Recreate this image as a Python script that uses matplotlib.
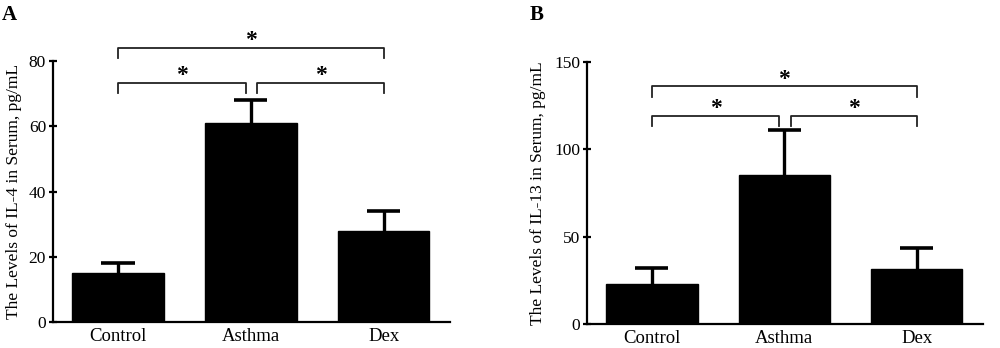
import numpy as np
import matplotlib
matplotlib.use('Agg')
import matplotlib.pyplot as plt

groups = ['Control', 'Asthma', 'Dex']

# panel A: IL-4
il4_mean = [15, 61, 28]
il4_err = [3, 7, 6]
# panel B: IL-13
il13_mean = [23, 85, 31.5]
il13_err = [9, 26, 12]

plt.rcParams['font.family'] = 'Liberation Serif'

fig = plt.figure(figsize=(10, 3.48), dpi=100)


def panel(rect, means, errs, ymax_axis, ylim_top, yticks, ylabel, brackets, star_off, lab_x):
    ax = fig.add_axes(rect)
    x = np.arange(len(groups))
    means = np.array(means)
    errs = np.array(errs)
    ax.bar(x, means, width=0.69, color='black', edgecolor='black', zorder=2)
    # upper error bars only
    ax.vlines(x, means, means + errs, color='black', lw=2.4, zorder=1)
    ax.hlines(means + errs, x - 0.125, x + 0.125, color='black', lw=2.6, zorder=1)
    ax.set_xlim(-0.49, 2.5)
    ax.set_ylim(0, ylim_top)
    ax.set_yticks(yticks)
    ax.set_xticks(x)
    ax.set_xticklabels(groups, fontsize=13.5)
    ax.tick_params(axis='x', length=0, pad=4)
    ax.tick_params(axis='y', direction='inout', length=6, width=1.6, labelsize=12.5, pad=2)
    for s in ['top', 'right']:
        ax.spines[s].set_visible(False)
    ax.spines['left'].set_bounds(0, ymax_axis)
    ax.spines['left'].set_linewidth(1.6)
    ax.spines['bottom'].set_linewidth(1.6)
    ax.set_ylabel(ylabel, fontsize=12.5)
    ax.yaxis.set_label_coords(lab_x, ymax_axis / 2 / ylim_top)
    for x0, x1, yb, drop in brackets:
        ax.plot([x0, x0, x1, x1], [yb - drop, yb, yb, yb - drop], color='#222222', lw=1.3)
        ax.text((x0 + x1) / 2, yb + star_off, '*', ha='center', va='center',
                fontsize=17, fontweight='bold')
    return ax


ax1 = panel([0.053, 0.0747, 0.397, 0.868], il4_mean, il4_err, 80, 92.6, [0, 20, 40, 60, 80],
            'The Levels of IL-4 in Serum, pg/mL',
            [(0.0, 2.0, 84, 3), (0.0, 0.96, 73.3, 3.2), (1.05, 2.0, 73.3, 3.2)], 2.2, -0.078)
ax2 = panel([0.587, 0.069, 0.396, 0.874], il13_mean, il13_err, 150, 174, [0, 50, 100, 150],
            'The Levels of IL-13 in Serum, pg/mL',
            [(0.0, 2.0, 136, 6), (0.0, 0.96, 119, 6), (1.05, 2.0, 119, 6)], 4.0, -0.104)

fig.text(0.002, 0.985, 'A', fontsize=15, fontweight='bold', va='top')
fig.text(0.530, 0.985, 'B', fontsize=15, fontweight='bold', va='top')

plt.savefig('out.png', dpi=100)
